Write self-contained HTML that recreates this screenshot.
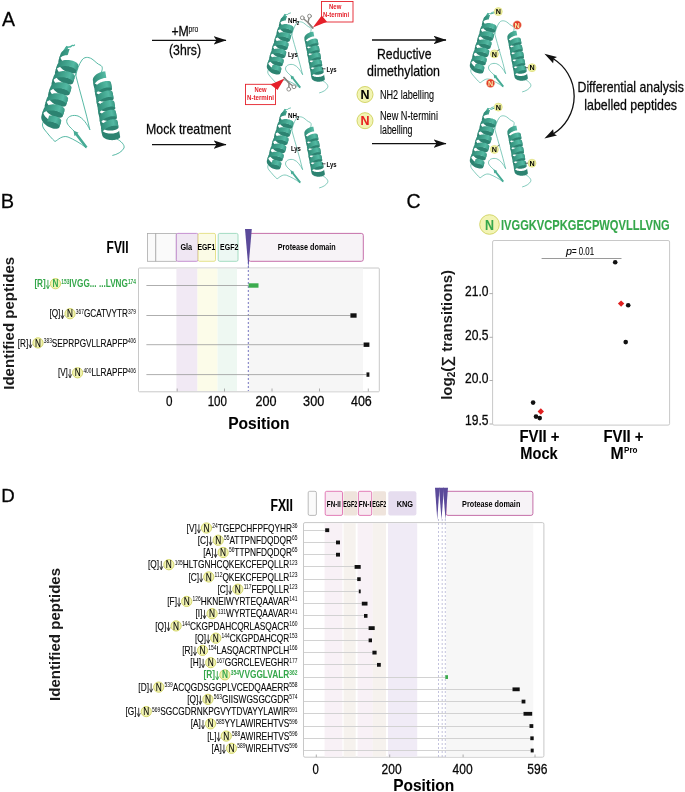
<!DOCTYPE html><html><head><meta charset="utf-8"><style>html,body{margin:0;padding:0;background:#fff;width:685px;height:792px;overflow:hidden}svg{display:block;font-family:"Liberation Sans",sans-serif;will-change:transform}</style></head><body><svg width="685" height="792" viewBox="0 0 685 792" font-family="Liberation Sans, sans-serif">
<rect width="685" height="792" fill="#ffffff"/>
<defs><marker id="ah" viewBox="0 0 13 8.6" refX="12.5" refY="4.3" markerWidth="13" markerHeight="8.6" markerUnits="userSpaceOnUse" orient="auto"><path d="M0,0 L13,4.3 L0,8.6 L3,4.3 Z" fill="#111"/></marker></defs>
<text x="2.00" y="26.00" font-size="19.5" stroke="#1a1a1a" stroke-width="0.3">A</text>
<defs><g id="prot"><path d="M66,48 C68,46 70,48 71.5,46 C72.5,44.5 73.5,46.5 74.5,45" fill="none" stroke="#4fb5a0" stroke-width="1.3" stroke-linecap="round" stroke-linejoin="round"/><path d="M61.5,53 L66.5,45.8 L68.5,47.2 L64.5,55 Z" fill="#46ab95"/><path d="M74,66 C75,70 75.5,73 75.8,75.4 C77,70 79,64 82,60 C84,57 88,56.5 92,59 C95,61 97,64 101,65.5 C103,67 102.5,70 101,73" fill="none" stroke="#4fb5a0" stroke-width="0.95" stroke-linecap="round" stroke-linejoin="round"/><path d="M75.8,75.4 C80,92 86,112 89.8,129.5" fill="none" stroke="#4fb5a0" stroke-width="0.95" stroke-linecap="round" stroke-linejoin="round"/><path d="M89.8,129.5 C87,124 83,118 78,116 C73,114.5 68,116 66.8,120 C66,124 70,127 74,131" fill="none" stroke="#4fb5a0" stroke-width="0.95" stroke-linecap="round" stroke-linejoin="round"/><path d="M86,147.5 C80,143 74,139.5 68,137 C62,135 58,140 55,141.5 C52,139 48,134 44,129 C42,126 42,124 43.5,121.5" fill="none" stroke="#4fb5a0" stroke-width="0.95" stroke-linecap="round" stroke-linejoin="round"/><path d="M117,139 C121,141 125,145 124,148 C122,152 117,154.5 112.7,155.4" fill="none" stroke="#4fb5a0" stroke-width="0.95" stroke-linecap="round" stroke-linejoin="round"/><path d="M87.5,146.7 L77.5,133.6 L78.6,132.8 L73.5,130.4 L74.4,136.0 L75.5,135.2 L85.5,148.3 Z" fill="#46ab95"/><linearGradient id="hg1" gradientUnits="userSpaceOnUse" x1="50.0" y1="88.2" x2="69.5" y2="94.3"><stop offset="0" stop-color="#2f8a77"/><stop offset="0.45" stop-color="#43a68f"/><stop offset="0.75" stop-color="#53b9a3"/><stop offset="1" stop-color="#3a9a85"/></linearGradient><path d="M60.38,54.44 L60.22,55.41 L60.24,56.42 L60.42,57.45 L60.77,58.49 L61.28,59.52 L61.93,60.54 L62.72,61.52 L63.62,62.45 L64.63,63.33 L65.73,64.14 L66.89,64.88 L68.09,65.52 L69.32,66.07 L70.54,66.52 L71.75,66.87 L72.90,67.11 L74.00,67.25 L75.01,67.28 L75.91,67.22 L76.70,67.05 L77.35,66.80 L77.85,66.47 L78.19,66.07 L78.37,65.60 L76.49,71.72 L76.31,72.18 L75.96,72.59 L75.46,72.92 L74.81,73.17 L74.03,73.33 L73.12,73.40 L72.11,73.37 L71.02,73.23 L69.86,72.99 L68.66,72.64 L67.43,72.19 L66.21,71.64 L65.00,70.99 L63.84,70.26 L62.75,69.45 L61.74,68.57 L60.83,67.63 L60.04,66.65 L59.39,65.64 L58.89,64.61 L58.54,63.57 L58.35,62.54 L58.34,61.53 L58.49,60.56ZM56.96,65.52 L56.81,66.50 L56.82,67.50 L57.01,68.53 L57.36,69.57 L57.86,70.61 L58.51,71.62 L59.30,72.60 L60.21,73.54 L61.22,74.42 L62.31,75.23 L63.47,75.96 L64.67,76.60 L65.90,77.15 L67.13,77.61 L68.33,77.95 L69.49,78.20 L70.58,78.33 L71.59,78.37 L72.49,78.30 L73.28,78.14 L73.93,77.89 L74.43,77.55 L74.78,77.15 L74.96,76.69 L73.07,82.80 L72.89,83.27 L72.55,83.67 L72.04,84.00 L71.39,84.25 L70.61,84.42 L69.70,84.48 L68.70,84.45 L67.60,84.31 L66.44,84.07 L65.24,83.72 L64.01,83.27 L62.79,82.72 L61.59,82.07 L60.43,81.34 L59.33,80.53 L58.32,79.65 L57.41,78.72 L56.63,77.74 L55.97,76.72 L55.47,75.69 L55.12,74.65 L54.94,73.62 L54.92,72.61 L55.08,71.64ZM53.55,76.61 L53.39,77.58 L53.41,78.59 L53.59,79.62 L53.94,80.66 L54.44,81.69 L55.10,82.70 L55.88,83.68 L56.79,84.62 L57.80,85.50 L58.89,86.31 L60.05,87.04 L61.26,87.69 L62.48,88.24 L63.71,88.69 L64.91,89.04 L66.07,89.28 L67.16,89.42 L68.17,89.45 L69.08,89.38 L69.86,89.22 L70.51,88.97 L71.01,88.64 L71.36,88.23 L71.54,87.77 L69.66,93.89 L69.47,94.35 L69.13,94.75 L68.63,95.08 L67.98,95.34 L67.19,95.50 L66.29,95.57 L65.28,95.53 L64.19,95.40 L63.03,95.15 L61.82,94.81 L60.60,94.35 L59.37,93.80 L58.17,93.16 L57.01,92.43 L55.91,91.62 L54.90,90.74 L54.00,89.80 L53.21,88.82 L52.56,87.81 L52.05,86.77 L51.71,85.73 L51.52,84.70 L51.51,83.69 L51.66,82.72ZM50.13,87.69 L49.97,88.66 L49.99,89.67 L50.17,90.70 L50.52,91.74 L51.03,92.77 L51.68,93.79 L52.47,94.77 L53.37,95.70 L54.38,96.58 L55.48,97.39 L56.64,98.13 L57.84,98.77 L59.07,99.32 L60.29,99.77 L61.50,100.12 L62.65,100.36 L63.75,100.50 L64.76,100.53 L65.66,100.47 L66.45,100.30 L67.10,100.05 L67.60,99.72 L67.94,99.32 L68.12,98.85 L66.24,104.97 L66.06,105.43 L65.71,105.84 L65.21,106.17 L64.56,106.42 L63.78,106.58 L62.87,106.65 L61.86,106.62 L60.77,106.48 L59.61,106.24 L58.41,105.89 L57.18,105.44 L55.96,104.89 L54.75,104.24 L53.59,103.51 L52.50,102.70 L51.49,101.82 L50.58,100.88 L49.79,99.90 L49.14,98.89 L48.64,97.86 L48.29,96.82 L48.10,95.79 L48.09,94.78 L48.24,93.81ZM46.71,98.77 L46.56,99.75 L46.57,100.75 L46.76,101.78 L47.11,102.82 L47.61,103.86 L48.26,104.87 L49.05,105.85 L49.96,106.79 L50.97,107.67 L52.06,108.48 L53.22,109.21 L54.42,109.85 L55.65,110.40 L56.88,110.86 L58.08,111.20 L59.24,111.45 L60.33,111.58 L61.34,111.62 L62.24,111.55 L63.03,111.39 L63.68,111.14 L64.18,110.80 L64.53,110.40 L64.71,109.94 L62.82,116.05 L62.64,116.52 L62.30,116.92 L61.79,117.25 L61.14,117.50 L60.36,117.67 L59.45,117.73 L58.45,117.70 L57.35,117.56 L56.19,117.32 L54.99,116.97 L53.76,116.52 L52.54,115.97 L51.34,115.32 L50.18,114.59 L49.08,113.78 L48.07,112.90 L47.16,111.97 L46.38,110.99 L45.72,109.97 L45.22,108.94 L44.87,107.90 L44.69,106.87 L44.67,105.86 L44.83,104.89ZM43.30,109.86 L43.14,110.83 L43.16,111.84 L43.34,112.87 L43.69,113.91 L44.19,114.94 L44.85,115.95 L45.63,116.93 L46.54,117.87 L47.55,118.75 L48.64,119.56 L49.80,120.29 L51.01,120.94 L52.23,121.49 L53.46,121.94 L54.66,122.29 L55.82,122.53 L56.91,122.67 L57.92,122.70 L58.83,122.63 L59.61,122.47 L60.26,122.22 L60.76,121.89 L61.11,121.48 L61.29,121.02 L59.41,127.14 L59.22,127.60 L58.88,128.00 L58.38,128.33 L57.73,128.59 L56.94,128.75 L56.04,128.82 L55.03,128.78 L53.94,128.65 L52.78,128.40 L51.57,128.06 L50.35,127.60 L49.12,127.05 L47.92,126.41 L46.76,125.68 L45.66,124.87 L44.65,123.99 L43.75,123.05 L42.96,122.07 L42.31,121.06 L41.80,120.02 L41.46,118.98 L41.27,117.95 L41.26,116.94 L41.41,115.97Z" fill="#2c8371"/><path d="M69.63,48.90 L68.29,49.02 L66.99,49.24 L65.75,49.56 L64.60,49.99 L63.55,50.52 L62.63,51.14 L61.83,51.86 L61.19,52.65 L60.70,53.51 L60.38,54.44 L58.49,60.56 L58.82,59.63 L59.30,58.77 L59.95,57.97 L60.74,57.26 L61.67,56.63 L62.72,56.11 L63.87,55.68 L65.10,55.35 L66.40,55.13 L67.75,55.02ZM78.37,65.60 L78.39,65.09 L78.23,64.55 L77.90,63.98 L77.41,63.40 L76.76,62.83 L75.97,62.28 L75.04,61.76 L73.99,61.28 L72.84,60.87 L71.60,60.52 L70.30,60.25 L68.95,60.06 L67.59,59.98 L66.22,59.99 L64.87,60.10 L63.57,60.32 L62.34,60.64 L61.18,61.07 L60.14,61.60 L59.21,62.23 L58.42,62.94 L57.77,63.73 L57.29,64.60 L56.96,65.52 L55.08,71.64 L55.40,70.71 L55.89,69.85 L56.53,69.06 L57.32,68.34 L58.25,67.72 L59.30,67.19 L60.45,66.76 L61.69,66.44 L62.99,66.22 L64.33,66.10 L65.70,66.09 L67.07,66.18 L68.41,66.36 L69.72,66.63 L70.95,66.98 L72.11,67.40 L73.16,67.87 L74.09,68.39 L74.88,68.95 L75.53,69.52 L76.02,70.09 L76.34,70.66 L76.50,71.21 L76.49,71.72ZM74.96,76.69 L74.97,76.18 L74.81,75.63 L74.49,75.06 L74.00,74.49 L73.35,73.91 L72.55,73.36 L71.62,72.84 L70.58,72.37 L69.42,71.95 L68.19,71.60 L66.88,71.33 L65.54,71.15 L64.17,71.06 L62.80,71.07 L61.46,71.18 L60.15,71.40 L58.92,71.73 L57.77,72.16 L56.72,72.69 L55.79,73.31 L55.00,74.02 L54.36,74.82 L53.87,75.68 L53.55,76.61 L51.66,82.72 L51.98,81.80 L52.47,80.93 L53.12,80.14 L53.91,79.43 L54.83,78.80 L55.88,78.27 L57.03,77.84 L58.27,77.52 L59.57,77.30 L60.92,77.19 L62.28,77.18 L63.65,77.26 L65.00,77.45 L66.30,77.72 L67.54,78.07 L68.69,78.48 L69.74,78.96 L70.67,79.48 L71.46,80.03 L72.11,80.60 L72.60,81.18 L72.93,81.75 L73.08,82.29 L73.07,82.80ZM71.54,87.77 L71.55,87.26 L71.40,86.71 L71.07,86.15 L70.58,85.57 L69.93,85.00 L69.14,84.44 L68.21,83.92 L67.16,83.45 L66.01,83.03 L64.77,82.68 L63.47,82.41 L62.12,82.23 L60.75,82.14 L59.38,82.15 L58.04,82.27 L56.74,82.49 L55.50,82.81 L54.35,83.24 L53.30,83.77 L52.38,84.39 L51.58,85.11 L50.94,85.90 L50.45,86.76 L50.13,87.69 L48.24,93.81 L48.57,92.88 L49.05,92.02 L49.70,91.22 L50.49,90.51 L51.42,89.88 L52.47,89.36 L53.62,88.93 L54.85,88.60 L56.15,88.38 L57.50,88.27 L58.87,88.26 L60.24,88.35 L61.58,88.53 L62.88,88.80 L64.12,89.15 L65.27,89.57 L66.32,90.04 L67.25,90.56 L68.05,91.11 L68.69,91.68 L69.18,92.26 L69.51,92.83 L69.67,93.38 L69.66,93.89ZM68.12,98.85 L68.14,98.34 L67.98,97.80 L67.65,97.23 L67.16,96.65 L66.51,96.08 L65.72,95.53 L64.79,95.01 L63.74,94.53 L62.59,94.12 L61.35,93.77 L60.05,93.50 L58.70,93.31 L57.34,93.23 L55.97,93.24 L54.62,93.35 L53.32,93.57 L52.09,93.89 L50.93,94.32 L49.89,94.85 L48.96,95.48 L48.17,96.19 L47.52,96.98 L47.04,97.85 L46.71,98.77 L44.83,104.89 L45.15,103.96 L45.64,103.10 L46.28,102.31 L47.07,101.59 L48.00,100.97 L49.05,100.44 L50.20,100.01 L51.44,99.69 L52.74,99.47 L54.08,99.35 L55.45,99.34 L56.82,99.43 L58.16,99.61 L59.47,99.88 L60.70,100.23 L61.86,100.65 L62.91,101.12 L63.84,101.64 L64.63,102.20 L65.28,102.77 L65.77,103.34 L66.09,103.91 L66.25,104.46 L66.24,104.97ZM64.71,109.94 L64.72,109.43 L64.56,108.88 L64.24,108.31 L63.75,107.74 L63.10,107.16 L62.30,106.61 L61.37,106.09 L60.33,105.62 L59.17,105.20 L57.94,104.85 L56.63,104.58 L55.29,104.40 L53.92,104.31 L52.55,104.32 L51.21,104.43 L49.90,104.65 L48.67,104.98 L47.52,105.41 L46.47,105.94 L45.54,106.56 L44.75,107.27 L44.11,108.07 L43.62,108.93 L43.30,109.86 L41.41,115.97 L41.73,115.05 L42.22,114.18 L42.87,113.39 L43.66,112.68 L44.58,112.05 L45.63,111.52 L46.78,111.09 L48.02,110.77 L49.32,110.55 L50.67,110.44 L52.03,110.43 L53.40,110.51 L54.75,110.70 L56.05,110.97 L57.29,111.32 L58.44,111.73 L59.49,112.21 L60.42,112.73 L61.21,113.28 L61.86,113.85 L62.35,114.43 L62.68,115.00 L62.83,115.54 L62.82,116.05ZM61.29,121.02 L61.30,120.51 L61.15,119.96 L60.82,119.40 L60.33,118.82 L59.68,118.25 L58.89,117.69 L57.96,117.17 L56.91,116.70 L55.76,116.28 L54.52,115.93 L53.22,115.66 L51.87,115.48 L50.50,115.39 L49.13,115.40 L47.25,121.52 L48.62,121.51 L49.99,121.60 L51.33,121.78 L52.63,122.05 L53.87,122.40 L55.02,122.82 L56.07,123.29 L57.00,123.81 L57.80,124.36 L58.44,124.93 L58.93,125.51 L59.26,126.08 L59.42,126.63 L59.41,127.14Z" fill="url(#hg1)"/><linearGradient id="hg2" gradientUnits="userSpaceOnUse" x1="97.6" y1="108.5" x2="114.9" y2="105.5"><stop offset="0" stop-color="#2f8a77"/><stop offset="0.45" stop-color="#43a68f"/><stop offset="0.75" stop-color="#53b9a3"/><stop offset="1" stop-color="#3a9a85"/></linearGradient><path d="M92.96,80.87 L93.23,81.61 L93.65,82.30 L94.20,82.96 L94.88,83.55 L95.67,84.08 L96.57,84.55 L97.56,84.94 L98.62,85.26 L99.74,85.50 L100.89,85.66 L102.06,85.75 L103.23,85.76 L104.37,85.69 L105.47,85.56 L106.51,85.36 L107.48,85.11 L108.35,84.82 L109.11,84.48 L109.76,84.11 L110.27,83.73 L110.65,83.33 L110.88,82.94 L110.96,82.55 L110.89,82.19 L112.00,88.69 L112.06,89.06 L111.98,89.44 L111.75,89.84 L111.38,90.24 L110.86,90.62 L110.22,90.99 L109.45,91.32 L108.58,91.62 L107.62,91.87 L106.57,92.07 L105.47,92.20 L104.33,92.26 L103.16,92.25 L102.00,92.17 L100.84,92.01 L99.73,91.77 L98.67,91.45 L97.68,91.06 L96.78,90.59 L95.98,90.06 L95.30,89.46 L94.75,88.81 L94.33,88.11 L94.06,87.38ZM94.61,90.54 L94.90,91.28 L95.34,91.97 L95.91,92.61 L96.60,93.20 L97.42,93.73 L98.33,94.18 L99.33,94.56 L100.40,94.87 L101.52,95.10 L102.67,95.25 L103.84,95.33 L105.01,95.32 L106.15,95.25 L107.24,95.11 L108.27,94.91 L109.23,94.65 L110.09,94.35 L110.83,94.01 L111.46,93.64 L111.96,93.25 L112.31,92.85 L112.52,92.46 L112.58,92.07 L112.50,91.71 L113.60,98.22 L113.69,98.58 L113.63,98.96 L113.42,99.36 L113.06,99.75 L112.57,100.14 L111.94,100.51 L111.19,100.85 L110.33,101.16 L109.38,101.41 L108.35,101.62 L107.25,101.76 L106.11,101.83 L104.95,101.83 L103.78,101.76 L102.62,101.61 L101.50,101.38 L100.43,101.07 L99.43,100.69 L98.52,100.23 L97.71,99.71 L97.01,99.12 L96.44,98.48 L96.01,97.78 L95.71,97.05ZM96.27,100.22 L96.58,100.95 L97.03,101.63 L97.62,102.27 L98.33,102.85 L99.16,103.36 L100.08,103.81 L101.09,104.18 L102.17,104.48 L103.30,104.70 L104.46,104.84 L105.63,104.90 L106.79,104.89 L107.92,104.81 L109.01,104.66 L110.03,104.45 L110.97,104.18 L111.82,103.87 L112.55,103.53 L113.16,103.16 L113.64,102.77 L113.97,102.37 L114.16,101.97 L114.20,101.59 L114.10,101.24 L115.20,107.74 L115.31,108.10 L115.27,108.48 L115.08,108.88 L114.74,109.27 L114.27,109.66 L113.66,110.04 L112.92,110.38 L112.08,110.69 L111.14,110.95 L110.11,111.16 L109.03,111.31 L107.89,111.40 L106.73,111.41 L105.56,111.35 L104.40,111.21 L103.28,110.99 L102.20,110.69 L101.19,110.32 L100.26,109.87 L99.44,109.36 L98.72,108.78 L98.14,108.14 L97.68,107.45 L97.37,106.73ZM97.92,109.89 L98.26,110.62 L98.73,111.30 L99.33,111.92 L100.06,112.50 L100.90,113.00 L101.84,113.44 L102.86,113.80 L103.95,114.09 L105.08,114.30 L106.24,114.42 L107.41,114.48 L108.57,114.46 L109.70,114.36 L110.78,114.20 L111.79,113.99 L112.72,113.72 L113.55,113.40 L114.27,113.05 L114.86,112.68 L115.32,112.28 L115.63,111.89 L115.80,111.49 L115.82,111.12 L115.70,110.76 L116.80,117.27 L116.93,117.62 L116.91,118.00 L116.74,118.39 L116.42,118.79 L115.96,119.18 L115.37,119.56 L114.65,119.91 L113.82,120.22 L112.90,120.49 L111.88,120.71 L110.80,120.87 L109.67,120.96 L108.52,120.98 L107.35,120.93 L106.18,120.80 L105.05,120.59 L103.97,120.31 L102.95,119.95 L102.01,119.51 L101.17,119.00 L100.44,118.43 L99.83,117.80 L99.36,117.12 L99.03,116.40ZM99.38,118.82 L99.58,119.57 L99.94,120.28 L100.43,120.96 L101.05,121.58 L101.80,122.14 L102.65,122.64 L103.60,123.07 L104.63,123.42 L105.72,123.69 L106.86,123.89 L108.03,124.01 L109.19,124.05 L110.35,124.02 L111.47,123.92 L112.55,123.75 L113.55,123.52 L114.46,123.25 L115.28,122.93 L115.98,122.57 L116.55,122.20 L116.99,121.80 L117.29,121.41 L117.44,121.01 L117.44,120.64 L118.54,127.15 L118.54,127.52 L118.39,127.91 L118.10,128.31 L117.66,128.70 L117.08,129.08 L116.38,129.44 L115.57,129.76 L114.65,130.03 L113.65,130.26 L112.58,130.42 L111.45,130.53 L110.30,130.56 L109.13,130.52 L107.97,130.40 L106.83,130.20 L105.74,129.92 L104.70,129.57 L103.75,129.15 L102.90,128.65 L102.15,128.09 L101.53,127.46 L101.04,126.79 L100.69,126.07 L100.48,125.32ZM101.02,128.49 L101.25,129.24 L101.62,129.95 L102.13,130.62 L102.77,131.23 L103.53,131.79 L104.40,132.27 L105.36,132.69 L106.40,133.03 L107.50,133.30 L108.64,133.48 L109.81,133.59 L110.98,133.62 L112.13,133.58 L113.25,133.47 L114.31,133.30 L115.30,133.06 L116.21,132.78 L117.01,132.45 L117.69,132.10 L118.25,131.72 L118.66,131.32 L118.94,130.92 L119.07,130.53 L119.05,130.16 L120.15,136.67 L120.17,137.04 L120.05,137.43 L119.77,137.83 L119.35,138.22 L118.79,138.60 L118.11,138.96 L117.31,139.29 L116.41,139.57 L115.41,139.80 L114.35,139.98 L113.23,140.09 L112.08,140.13 L110.91,140.10 L109.75,139.99 L108.61,139.80 L107.51,139.54 L106.47,139.20 L105.50,138.78 L104.63,138.29 L103.87,137.74 L103.23,137.13 L102.72,136.46 L102.35,135.75 L102.13,135.00Z" fill="#2c8371"/><path d="M105.22,71.36 L104.23,71.44 L103.18,71.59 L102.10,71.82 L101.00,72.14 L99.90,72.52 L98.82,72.98 L97.79,73.51 L96.81,74.10 L95.90,74.75 L95.09,75.44 L94.39,76.17 L93.80,76.94 L93.35,77.72 L93.03,78.52 L92.86,79.32 L92.83,80.10 L92.96,80.87 L94.06,87.38 L93.94,86.61 L93.96,85.82 L94.13,85.03 L94.45,84.23 L94.91,83.45 L95.49,82.68 L96.20,81.95 L97.01,81.25 L97.91,80.61 L98.89,80.02 L99.93,79.49 L101.00,79.03 L102.10,78.64 L103.20,78.33 L104.29,78.10 L105.33,77.94 L106.32,77.87ZM110.89,82.19 L110.68,81.85 L110.32,81.56 L109.83,81.31 L109.21,81.12 L108.47,80.99 L107.63,80.93 L106.71,80.94 L105.71,81.03 L104.66,81.19 L103.57,81.44 L102.47,81.76 L101.38,82.15 L100.30,82.62 L99.27,83.16 L98.30,83.76 L97.41,84.41 L96.61,85.11 L95.92,85.85 L95.36,86.62 L94.92,87.40 L94.62,88.20 L94.47,89.00 L94.47,89.78 L94.61,90.54 L95.71,97.05 L95.57,96.29 L95.57,95.50 L95.73,94.71 L96.02,93.91 L96.46,93.12 L97.03,92.36 L97.72,91.62 L98.51,90.92 L99.41,90.26 L100.38,89.67 L101.41,89.13 L102.48,88.66 L103.58,88.26 L104.68,87.94 L105.76,87.70 L106.81,87.53 L107.81,87.45 L108.74,87.43 L109.58,87.50 L110.31,87.62 L110.93,87.82 L111.43,88.06 L111.78,88.36 L112.00,88.69ZM112.50,91.71 L112.26,91.38 L111.89,91.09 L111.38,90.85 L110.74,90.67 L109.99,90.55 L109.14,90.50 L108.20,90.52 L107.19,90.62 L106.14,90.79 L105.05,91.05 L103.95,91.38 L102.85,91.79 L101.78,92.26 L100.76,92.81 L99.80,93.42 L98.92,94.08 L98.14,94.78 L97.46,95.53 L96.91,96.30 L96.49,97.09 L96.22,97.88 L96.08,98.68 L96.10,99.46 L96.27,100.22 L97.37,106.73 L97.21,105.97 L97.19,105.19 L97.32,104.39 L97.60,103.59 L98.02,102.80 L98.57,102.03 L99.24,101.29 L100.02,100.58 L100.90,99.92 L101.86,99.32 L102.89,98.77 L103.96,98.29 L105.05,97.89 L106.15,97.55 L107.24,97.30 L108.30,97.12 L109.30,97.03 L110.24,97.00 L111.09,97.06 L111.84,97.18 L112.48,97.36 L112.99,97.60 L113.37,97.89 L113.60,98.22ZM114.10,101.24 L113.84,100.91 L113.45,100.63 L112.92,100.40 L112.27,100.22 L111.50,100.11 L110.64,100.07 L109.69,100.10 L108.68,100.21 L107.61,100.40 L106.52,100.66 L105.42,101.00 L104.33,101.42 L103.26,101.91 L102.25,102.46 L101.30,103.08 L100.43,103.74 L99.66,104.45 L99.00,105.20 L98.47,105.98 L98.07,106.77 L97.81,107.56 L97.70,108.36 L97.74,109.14 L97.92,109.89 L99.03,116.40 L98.84,115.65 L98.81,114.87 L98.92,114.07 L99.18,113.27 L99.58,112.48 L100.11,111.71 L100.77,110.96 L101.53,110.25 L102.40,109.58 L103.35,108.97 L104.37,108.42 L105.43,107.93 L106.52,107.51 L107.63,107.17 L108.72,106.90 L109.78,106.72 L110.79,106.61 L111.74,106.58 L112.61,106.62 L113.37,106.73 L114.02,106.90 L114.55,107.14 L114.95,107.42 L115.20,107.74ZM115.70,110.76 L115.42,110.44 L115.01,110.17 L114.46,109.94 L113.79,109.77 L113.01,109.67 L112.14,109.64 L111.18,109.68 L110.16,109.80 L109.09,110.00 L107.99,110.28 L106.89,110.63 L105.80,111.06 L104.75,111.55 L103.74,112.12 L102.80,112.74 L101.94,113.41 L101.19,114.13 L100.55,114.88 L100.03,115.66 L99.65,116.45 L99.41,117.25 L99.32,118.04 L99.38,118.82 L100.48,125.32 L100.43,124.55 L100.52,123.75 L100.76,122.96 L101.14,122.16 L101.65,121.39 L102.29,120.63 L103.05,119.92 L103.90,119.24 L104.84,118.62 L105.85,118.06 L106.91,117.56 L108.00,117.14 L109.10,116.78 L110.19,116.51 L111.26,116.31 L112.28,116.19 L113.24,116.15 L114.12,116.18 L114.90,116.28 L115.57,116.45 L116.11,116.67 L116.53,116.95 L116.80,117.27ZM117.44,120.64 L117.29,120.29 L117.00,119.97 L116.57,119.70 L116.00,119.49 L115.32,119.33 L114.52,119.24 L113.63,119.21 L112.67,119.27 L111.64,119.40 L110.56,119.61 L109.47,119.89 L108.37,120.26 L107.28,120.69 L106.23,121.20 L105.23,121.77 L104.30,122.40 L103.46,123.08 L102.72,123.80 L102.09,124.56 L101.60,125.34 L101.24,126.13 L101.02,126.93 L100.95,127.72 L101.02,128.49 L102.13,135.00 L102.05,134.23 L102.12,133.44 L102.34,132.64 L102.70,131.84 L103.20,131.06 L103.82,130.31 L104.56,129.59 L105.40,128.91 L106.33,128.28 L107.33,127.71 L108.38,127.20 L109.47,126.76 L110.57,126.40 L111.67,126.11 L112.74,125.90 L113.77,125.77 L114.74,125.72 L115.63,125.74 L116.42,125.84 L117.11,125.99 L117.67,126.21 L118.10,126.48 L118.39,126.80 L118.54,127.15ZM119.05,130.16 L120.15,136.67Z" fill="url(#hg2)"/></g></defs>
<use href="#prot"/>
<use href="#prot" transform="matrix(0.734,-0.0196,0.0086,0.73,235.5,-18.4)"/>
<use href="#prot" transform="matrix(0.734,-0.0196,0.0086,0.73,235.5,76.6)"/>
<use href="#prot" transform="matrix(0.734,-0.0196,0.0086,0.73,438.5,-19.4)"/>
<use href="#prot" transform="matrix(0.734,-0.0196,0.0086,0.73,438.5,75.6)"/>
<g fill="none" stroke="#858580" stroke-linecap="round"><path d="M302.3,17.8 L308.0,22.5 L312.8,28.0" stroke-width="1.4"/><path d="M309.5,16.1 L308.0,22.5 L312.8,28.0" stroke-width="1.4"/><circle cx="302.3" cy="17.8" r="1.9" fill="#fff" stroke-width="0.9"/><circle cx="309.5" cy="16.1" r="1.9" fill="#fff" stroke-width="0.9"/></g>
<g fill="none" stroke="#858580" stroke-linecap="round"><path d="M288.8,89.2 L289.0,83.0 L284.0,77.5" stroke-width="1.4"/><path d="M294.0,86.8 L289.0,83.0 L284.0,77.5" stroke-width="1.4"/><circle cx="288.8" cy="89.2" r="1.9" fill="#fff" stroke-width="0.9"/><circle cx="294.0" cy="86.8" r="1.9" fill="#fff" stroke-width="0.9"/></g>
<rect x="321.5" y="1.5" width="31.5" height="20.5" fill="#fff" stroke="#e5202a" stroke-width="0.9"/>
<text x="335.20" y="9.00" font-size="7" font-weight="bold" fill="#e5202a" text-anchor="middle" textLength="12.30" lengthAdjust="spacingAndGlyphs">New</text>
<text x="336.10" y="17.20" font-size="7" font-weight="bold" fill="#e5202a" text-anchor="middle" textLength="26.00" lengthAdjust="spacingAndGlyphs">N-termini</text>
<path d="M312.8,27.6 L321.7,15.5 L327,21.8 Z" fill="#e5202a"/>
<rect x="245.5" y="84.3" width="30" height="20.3" fill="#fff" stroke="#e5202a" stroke-width="0.9"/>
<text x="260.50" y="91.90" font-size="7" font-weight="bold" fill="#e5202a" text-anchor="middle" textLength="12.00" lengthAdjust="spacingAndGlyphs">New</text>
<text x="260.50" y="100.30" font-size="7" font-weight="bold" fill="#e5202a" text-anchor="middle" textLength="27.00" lengthAdjust="spacingAndGlyphs">N-termini</text>
<path d="M284.5,78.6 L270.5,84.6 L277.5,90 Z" fill="#e5202a"/>
<text x="287.90" y="23.40" font-size="8" font-weight="bold" textLength="9.00" lengthAdjust="spacingAndGlyphs">NH</text>
<text x="296.80" y="25.40" font-size="5" font-weight="bold" textLength="2.50" lengthAdjust="spacingAndGlyphs">2</text>
<text x="287.90" y="56.50" font-size="8" font-weight="bold" textLength="10.00" lengthAdjust="spacingAndGlyphs">Lys</text>
<line x1="322" y1="68.8" x2="325.5" y2="68.8" stroke="#222" stroke-width="0.8"/>
<text x="326.60" y="71.50" font-size="8" font-weight="bold" textLength="10.00" lengthAdjust="spacingAndGlyphs">Lys</text>
<text x="287.90" y="118.40" font-size="8" font-weight="bold" textLength="9.00" lengthAdjust="spacingAndGlyphs">NH</text>
<text x="296.80" y="120.40" font-size="5" font-weight="bold" textLength="2.50" lengthAdjust="spacingAndGlyphs">2</text>
<text x="290.90" y="151.00" font-size="8" font-weight="bold" textLength="10.00" lengthAdjust="spacingAndGlyphs">Lys</text>
<line x1="322" y1="163.8" x2="325.5" y2="163.8" stroke="#222" stroke-width="0.8"/>
<text x="326.60" y="166.50" font-size="8" font-weight="bold" textLength="10.00" lengthAdjust="spacingAndGlyphs">Lys</text>
<path d="M490.5,14 L495,12.5" stroke="#46ab95" stroke-width="1"/>
<circle cx="498.3" cy="11.6" r="4.0" fill="#eef0a0" stroke="#d8d870" stroke-width="0.6"/>
<text x="498.30" y="14.20" font-size="7.2" font-weight="bold" text-anchor="middle" textLength="5.20" lengthAdjust="spacingAndGlyphs">N</text>
<line x1="496.5" y1="51.5" x2="499.5" y2="49.5" stroke="#222" stroke-width="0.7"/>
<circle cx="494.4" cy="53.9" r="4.0" fill="#eef0a0" stroke="#d8d870" stroke-width="0.6"/>
<text x="494.40" y="56.50" font-size="7.2" font-weight="bold" text-anchor="middle" textLength="5.20" lengthAdjust="spacingAndGlyphs">N</text>
<line x1="525.5" y1="67.7" x2="528.5" y2="67.7" stroke="#222" stroke-width="0.8"/>
<circle cx="532" cy="67.7" r="4.0" fill="#eef0a0" stroke="#d8d870" stroke-width="0.6"/>
<text x="532.00" y="70.30" font-size="7.2" font-weight="bold" text-anchor="middle" textLength="5.20" lengthAdjust="spacingAndGlyphs">N</text>
<path d="M490.5,109.5 L495,108.0" stroke="#46ab95" stroke-width="1"/>
<circle cx="498.3" cy="107.1" r="4.0" fill="#eef0a0" stroke="#d8d870" stroke-width="0.6"/>
<text x="498.30" y="109.70" font-size="7.2" font-weight="bold" text-anchor="middle" textLength="5.20" lengthAdjust="spacingAndGlyphs">N</text>
<line x1="496.5" y1="147.0" x2="499.5" y2="145.0" stroke="#222" stroke-width="0.7"/>
<circle cx="494.4" cy="149.4" r="4.0" fill="#eef0a0" stroke="#d8d870" stroke-width="0.6"/>
<text x="494.40" y="152.00" font-size="7.2" font-weight="bold" text-anchor="middle" textLength="5.20" lengthAdjust="spacingAndGlyphs">N</text>
<line x1="525.5" y1="163.2" x2="528.5" y2="163.2" stroke="#222" stroke-width="0.8"/>
<circle cx="532" cy="163.2" r="4.0" fill="#eef0a0" stroke="#d8d870" stroke-width="0.6"/>
<text x="532.00" y="165.80" font-size="7.2" font-weight="bold" text-anchor="middle" textLength="5.20" lengthAdjust="spacingAndGlyphs">N</text>
<circle cx="517.2" cy="25" r="4.2" fill="#e23a2a" stroke="#f3c6a0" stroke-width="0.5"/>
<text x="517.20" y="27.60" font-size="7.2" font-weight="bold" fill="#f6f0a8" text-anchor="middle" textLength="5.20" lengthAdjust="spacingAndGlyphs">N</text>
<circle cx="490.5" cy="83.2" r="4.2" fill="#e23a2a" stroke="#f3c6a0" stroke-width="0.5"/>
<text x="490.50" y="85.80" font-size="7.2" font-weight="bold" fill="#f6f0a8" text-anchor="middle" textLength="5.20" lengthAdjust="spacingAndGlyphs">N</text>
<line x1="152" y1="40.3" x2="226" y2="40.3" stroke="#111" stroke-width="1.3" marker-end="url(#ah)"/>
<line x1="152" y1="144.6" x2="226" y2="144.6" stroke="#111" stroke-width="1.3" marker-end="url(#ah)"/>
<line x1="372" y1="40" x2="446" y2="40" stroke="#111" stroke-width="1.3" marker-end="url(#ah)"/>
<line x1="372" y1="143.6" x2="446" y2="143.6" stroke="#111" stroke-width="1.3" marker-end="url(#ah)"/>
<text x="171.40" y="35.80" font-size="14.2" textLength="17.40" lengthAdjust="spacingAndGlyphs" stroke="#1a1a1a" stroke-width="0.3">+M</text>
<text x="188.60" y="31.60" font-size="8.8" textLength="9.80" lengthAdjust="spacingAndGlyphs" stroke="#1a1a1a" stroke-width="0.1">pro</text>
<text x="169.00" y="54.50" font-size="14" textLength="32.00" lengthAdjust="spacingAndGlyphs" stroke="#1a1a1a" stroke-width="0.3">(3hrs)</text>
<text x="146.00" y="134.00" font-size="15" textLength="85.00" lengthAdjust="spacingAndGlyphs" stroke="#1a1a1a" stroke-width="0.3">Mock treatment</text>
<text x="377.00" y="59.20" font-size="15.5" textLength="54.50" lengthAdjust="spacingAndGlyphs" stroke="#1a1a1a" stroke-width="0.3">Reductive</text>
<text x="367.00" y="75.50" font-size="15" textLength="73.00" lengthAdjust="spacingAndGlyphs" stroke="#1a1a1a" stroke-width="0.3">dimethylation</text>
<circle cx="365" cy="94.5" r="8" fill="#f2f4b4" stroke="#d4d66a" stroke-width="1"/>
<text x="365.00" y="99.00" font-size="13" font-weight="bold" text-anchor="middle" textLength="9.00" lengthAdjust="spacingAndGlyphs" stroke="#1a1a1a" stroke-width="0.1">N</text>
<circle cx="365" cy="120.7" r="8" fill="#f2f4b4" stroke="#d4d66a" stroke-width="1"/>
<text x="365.00" y="125.20" font-size="13" font-weight="bold" fill="#e82020" text-anchor="middle" textLength="9.00" lengthAdjust="spacingAndGlyphs" stroke="#e82020" stroke-width="0.1">N</text>
<text x="380.00" y="99.00" font-size="12" textLength="54.00" lengthAdjust="spacingAndGlyphs" stroke="#1a1a1a" stroke-width="0.1">NH2 labelling</text>
<text x="380.00" y="120.00" font-size="12" textLength="58.00" lengthAdjust="spacingAndGlyphs" stroke="#1a1a1a" stroke-width="0.1">New N-termini</text>
<text x="380.00" y="134.30" font-size="12" textLength="32.50" lengthAdjust="spacingAndGlyphs" stroke="#1a1a1a" stroke-width="0.1">labelling</text>
<path d="M553.3,58.7 A44.3,44.3 0 0 1 553.3,133.9" fill="none" stroke="#111" stroke-width="1.3"/>
<path d="M544.4,53.8 L557,56.9 L553.8,58.7 L553.1,63.3 Z" fill="#111"/>
<path d="M544.4,138.6 L557,135.6 L553.8,133.8 L553.1,129.2 Z" fill="#111"/>
<text x="577.50" y="92.00" font-size="15" textLength="106.50" lengthAdjust="spacingAndGlyphs" stroke="#1a1a1a" stroke-width="0.3">Differential analysis</text>
<text x="584.30" y="109.50" font-size="15" textLength="92.70" lengthAdjust="spacingAndGlyphs" stroke="#1a1a1a" stroke-width="0.3">labelled peptides</text>
<text x="0.80" y="208.40" font-size="20" stroke="#1a1a1a" stroke-width="0.3">B</text>
<text x="106.60" y="252.70" font-size="15.8" font-weight="bold" textLength="21.90" lengthAdjust="spacingAndGlyphs" stroke="#1a1a1a" stroke-width="0.1">FVII</text>
<rect x="147.4" y="233.4" width="8.4" height="27.9" fill="#fafafa" stroke="#aaa" stroke-width="0.8"/>
<rect x="155.8" y="233.4" width="20.5" height="27.9" fill="#fafafa" stroke="#aaa" stroke-width="0.8"/>
<rect x="176.3" y="233.4" width="21.8" height="27.9" rx="1.5" fill="#f0e7f3" stroke="#c084cc" stroke-width="0.9"/>
<rect x="198.1" y="233.4" width="17.4" height="27.9" rx="1.5" fill="#fbfbe6" stroke="#e2df80" stroke-width="0.9"/>
<rect x="218.2" y="233.4" width="19.8" height="27.9" rx="1.5" fill="#edf8f3" stroke="#9ad8bb" stroke-width="0.9"/>
<rect x="248.5" y="233.4" width="114.8" height="27.9" rx="2" fill="#f7f3f7" stroke="#c060a0" stroke-width="0.9"/>
<text x="186.30" y="249.90" font-size="8.7" font-weight="bold" text-anchor="middle" textLength="11.80" lengthAdjust="spacingAndGlyphs">Gla</text>
<text x="206.40" y="249.90" font-size="8.7" font-weight="bold" text-anchor="middle" textLength="17.80" lengthAdjust="spacingAndGlyphs">EGF1</text>
<text x="229.20" y="249.90" font-size="8.7" font-weight="bold" text-anchor="middle" textLength="18.30" lengthAdjust="spacingAndGlyphs">EGF2</text>
<text x="306.70" y="249.90" font-size="8.7" font-weight="bold" text-anchor="middle" textLength="58.10" lengthAdjust="spacingAndGlyphs">Protease domain</text>
<rect x="138.5" y="268" width="240.8" height="123.8" rx="1" fill="#fff" stroke="#c8c8c8" stroke-width="1"/>
<rect x="176.4" y="268.5" width="21.1" height="122.5" fill="#f1e9f4"/>
<rect x="197.5" y="268.5" width="20.1" height="122.5" fill="#fcfce9"/>
<rect x="217.6" y="268.5" width="19.4" height="122.5" fill="#eef8f2"/>
<rect x="248.6" y="268.5" width="114.4" height="122.8" fill="#f6f6f6"/>
<path d="M245,229 L251.8,229 L248.4,268 Z" fill="#5b4a9a"/>
<line x1="248.3" y1="262" x2="248.3" y2="391" stroke="#5050b0" stroke-width="0.8" stroke-dasharray="2,2"/>
<line x1="146.4" y1="285.5" x2="248.6" y2="285.5" stroke="#999" stroke-width="0.8"/>
<rect x="248.6" y="283.3" width="9.900000000000006" height="4.4" fill="#3bab4e"/>
<text x="127.92" y="283.70" font-size="6.5" font-weight="bold" fill="#35a74b" textLength="8.08" lengthAdjust="spacingAndGlyphs">174</text>
<text x="69.34" y="287.30" font-size="11" font-weight="bold" fill="#35a74b" textLength="58.58" lengthAdjust="spacingAndGlyphs">IVGG... ...LVNG</text>
<text x="61.26" y="283.70" font-size="6.5" font-weight="bold" fill="#35a74b" textLength="8.08" lengthAdjust="spacingAndGlyphs">153</text>
<circle cx="55.46" cy="283.70" r="5.10" fill="#f2f4b4" stroke="#d4d66a" stroke-width="1"/>
<text x="52.50" y="287.30" font-size="11" font-weight="bold" fill="#35a74b" textLength="5.92" lengthAdjust="spacingAndGlyphs">N</text>
<path d="M47.91,279.90 V288.30" stroke="#35a74b" stroke-width="0.9"/>
<path d="M46.31,285.30 L47.91,288.80 L49.51,285.30" fill="none" stroke="#35a74b" stroke-width="0.9" stroke-linejoin="miter"/>
<text x="34.38" y="287.30" font-size="11" font-weight="bold" fill="#35a74b" textLength="11.38" lengthAdjust="spacingAndGlyphs">[R]</text>
<line x1="146.4" y1="315.5" x2="350.4" y2="315.5" stroke="#999" stroke-width="0.8"/>
<rect x="350.4" y="313.3" width="6.2000000000000455" height="4.4" fill="#111"/>
<text x="127.92" y="313.70" font-size="6.5" textLength="8.08" lengthAdjust="spacingAndGlyphs">379</text>
<text x="83.91" y="317.30" font-size="11" textLength="44.01" lengthAdjust="spacingAndGlyphs" stroke="#1a1a1a" stroke-width="0.1">GCATVYTR</text>
<text x="75.83" y="313.70" font-size="6.5" textLength="8.08" lengthAdjust="spacingAndGlyphs">367</text>
<circle cx="70.03" cy="313.70" r="5.10" fill="#f2f4b4" stroke="#d4d66a" stroke-width="1"/>
<text x="67.07" y="317.30" font-size="11" textLength="5.92" lengthAdjust="spacingAndGlyphs" stroke="#1a1a1a" stroke-width="0.1">N</text>
<path d="M62.48,309.90 V318.30" stroke="#1a1a1a" stroke-width="0.8"/>
<path d="M60.88,315.30 L62.48,318.80 L64.08,315.30" fill="none" stroke="#1a1a1a" stroke-width="0.8" stroke-linejoin="miter"/>
<text x="49.40" y="317.30" font-size="11" textLength="10.93" lengthAdjust="spacingAndGlyphs" stroke="#1a1a1a" stroke-width="0.1">[Q]</text>
<line x1="146.4" y1="344.7" x2="363.6" y2="344.7" stroke="#999" stroke-width="0.8"/>
<rect x="363.6" y="342.5" width="5.7999999999999545" height="4.4" fill="#111"/>
<text x="127.92" y="342.90" font-size="6.5" textLength="8.08" lengthAdjust="spacingAndGlyphs">406</text>
<text x="51.86" y="346.50" font-size="11" textLength="76.06" lengthAdjust="spacingAndGlyphs" stroke="#1a1a1a" stroke-width="0.1">SEPRPGVLLRAPFP</text>
<text x="43.78" y="342.90" font-size="6.5" textLength="8.08" lengthAdjust="spacingAndGlyphs">383</text>
<circle cx="37.98" cy="342.90" r="5.10" fill="#f2f4b4" stroke="#d4d66a" stroke-width="1"/>
<text x="35.02" y="346.50" font-size="11" textLength="5.92" lengthAdjust="spacingAndGlyphs" stroke="#1a1a1a" stroke-width="0.1">N</text>
<path d="M30.43,339.10 V347.50" stroke="#1a1a1a" stroke-width="0.8"/>
<path d="M28.83,344.50 L30.43,348.00 L32.03,344.50" fill="none" stroke="#1a1a1a" stroke-width="0.8" stroke-linejoin="miter"/>
<text x="17.81" y="346.50" font-size="11" textLength="10.47" lengthAdjust="spacingAndGlyphs" stroke="#1a1a1a" stroke-width="0.1">[R]</text>
<line x1="146.4" y1="374.6" x2="366.5" y2="374.6" stroke="#999" stroke-width="0.8"/>
<rect x="366.5" y="372.40000000000003" width="2.8999999999999773" height="4.4" fill="#111"/>
<text x="127.92" y="372.80" font-size="6.5" textLength="8.08" lengthAdjust="spacingAndGlyphs">406</text>
<text x="91.48" y="376.40" font-size="11" textLength="36.44" lengthAdjust="spacingAndGlyphs" stroke="#1a1a1a" stroke-width="0.1">LLRAPFP</text>
<text x="83.40" y="372.80" font-size="6.5" textLength="8.08" lengthAdjust="spacingAndGlyphs">400</text>
<circle cx="77.60" cy="372.80" r="5.10" fill="#f2f4b4" stroke="#d4d66a" stroke-width="1"/>
<text x="74.64" y="376.40" font-size="11" textLength="5.92" lengthAdjust="spacingAndGlyphs" stroke="#1a1a1a" stroke-width="0.1">N</text>
<path d="M70.05,369.00 V377.40" stroke="#1a1a1a" stroke-width="0.8"/>
<path d="M68.45,374.40 L70.05,377.90 L71.65,374.40" fill="none" stroke="#1a1a1a" stroke-width="0.8" stroke-linejoin="miter"/>
<text x="57.88" y="376.40" font-size="11" textLength="10.02" lengthAdjust="spacingAndGlyphs" stroke="#1a1a1a" stroke-width="0.1">[V]</text>
<line x1="177.2" y1="391.5" x2="177.2" y2="388.5" stroke="#999" stroke-width="0.8"/>
<line x1="224.5" y1="391.5" x2="224.5" y2="388.5" stroke="#999" stroke-width="0.8"/>
<line x1="272" y1="391.5" x2="272" y2="388.5" stroke="#999" stroke-width="0.8"/>
<line x1="319.5" y1="391.5" x2="319.5" y2="388.5" stroke="#999" stroke-width="0.8"/>
<line x1="368.3" y1="391.5" x2="368.3" y2="388.5" stroke="#999" stroke-width="0.8"/>
<text x="166.10" y="406.40" font-size="14" textLength="6.50" lengthAdjust="spacingAndGlyphs" stroke="#1a1a1a" stroke-width="0.3">0</text>
<text x="207.70" y="406.40" font-size="14" textLength="19.30" lengthAdjust="spacingAndGlyphs" stroke="#1a1a1a" stroke-width="0.3">100</text>
<text x="255.50" y="406.40" font-size="14" textLength="21.00" lengthAdjust="spacingAndGlyphs" stroke="#1a1a1a" stroke-width="0.3">200</text>
<text x="303.10" y="406.40" font-size="14" textLength="21.20" lengthAdjust="spacingAndGlyphs" stroke="#1a1a1a" stroke-width="0.3">300</text>
<text x="351.00" y="406.40" font-size="14" textLength="20.80" lengthAdjust="spacingAndGlyphs" stroke="#1a1a1a" stroke-width="0.3">406</text>
<text x="228.20" y="428.50" font-size="16.8" font-weight="bold" textLength="61.40" lengthAdjust="spacingAndGlyphs" stroke="#1a1a1a" stroke-width="0.1">Position</text>
<text transform="translate(13.6,389.8) rotate(-90)" font-size="15" font-weight="bold" textLength="133" lengthAdjust="spacingAndGlyphs" fill="#1a1a1a">Identified peptides</text>
<text x="406.40" y="208.00" font-size="19.5" stroke="#1a1a1a" stroke-width="0.3">C</text>
<circle cx="489.5" cy="224.5" r="9.8" fill="#f2f4b4" stroke="#d4d66a" stroke-width="1"/>
<text x="489.50" y="229.50" font-size="14" font-weight="bold" fill="#35a74b" text-anchor="middle" textLength="9.00" lengthAdjust="spacingAndGlyphs" stroke="#35a74b" stroke-width="0.1">N</text>
<text x="501.00" y="229.50" font-size="14" font-weight="bold" fill="#35a74b" textLength="168.60" lengthAdjust="spacingAndGlyphs" stroke="#35a74b" stroke-width="0.1">IVGGKVCPKGECPWQVLLLVNG</text>
<rect x="492.6" y="240.5" width="177" height="184.6" rx="1.5" fill="#fff" stroke="#c8c8c8" stroke-width="1"/>
<line x1="541.6" y1="258.5" x2="621.5" y2="258.5" stroke="#9a9a9a" stroke-width="1"/>
<text x="566.00" y="255.20" font-size="11" font-style="italic" textLength="6.00" lengthAdjust="spacingAndGlyphs" stroke="#1a1a1a" stroke-width="0.1">p</text>
<text x="572.00" y="255.20" font-size="11" textLength="22.00" lengthAdjust="spacingAndGlyphs" stroke="#1a1a1a" stroke-width="0.1">= 0.01</text>
<line x1="489.5" y1="293.6" x2="492.6" y2="293.6" stroke="#999" stroke-width="0.8"/>
<text x="465.00" y="295.80" font-size="14.5" textLength="23.50" lengthAdjust="spacingAndGlyphs" stroke="#1a1a1a" stroke-width="0.3">21.0</text>
<line x1="489.5" y1="337.3" x2="492.6" y2="337.3" stroke="#999" stroke-width="0.8"/>
<text x="465.00" y="339.50" font-size="14.5" textLength="23.50" lengthAdjust="spacingAndGlyphs" stroke="#1a1a1a" stroke-width="0.3">20.5</text>
<line x1="489.5" y1="380.5" x2="492.6" y2="380.5" stroke="#999" stroke-width="0.8"/>
<text x="465.00" y="382.70" font-size="14.5" textLength="23.50" lengthAdjust="spacingAndGlyphs" stroke="#1a1a1a" stroke-width="0.3">20.0</text>
<line x1="489.5" y1="424" x2="492.6" y2="424" stroke="#999" stroke-width="0.8"/>
<text x="465.00" y="425.00" font-size="14.5" textLength="23.50" lengthAdjust="spacingAndGlyphs" stroke="#1a1a1a" stroke-width="0.3">19.5</text>
<text transform="translate(451.5,399.8) rotate(-90)" font-size="15" font-weight="bold" fill="#1a1a1a" textLength="129.8" lengthAdjust="spacingAndGlyphs">log<tspan font-size="10" dy="3">2</tspan><tspan dy="-3">(∑ transitions)</tspan></text>
<circle cx="615.2" cy="262.2" r="2.3" fill="#111"/>
<circle cx="628.2" cy="305.3" r="2.3" fill="#111"/>
<circle cx="625.7" cy="342.1" r="2.3" fill="#111"/>
<circle cx="533.1" cy="402.6" r="2.3" fill="#111"/>
<circle cx="536" cy="416.6" r="2.3" fill="#111"/>
<circle cx="539.7" cy="418.1" r="2.3" fill="#111"/>
<path d="M617.9,303.6 L621.1,300.40000000000003 L624.3000000000001,303.6 L621.1,306.8 Z" fill="#e02020"/>
<path d="M537.5999999999999,411.5 L540.8,408.3 L544.0,411.5 L540.8,414.7 Z" fill="#e02020"/>
<text x="519.40" y="442.00" font-size="16.2" font-weight="bold" textLength="40.20" lengthAdjust="spacingAndGlyphs" stroke="#1a1a1a" stroke-width="0.1">FVII +</text>
<text x="520.30" y="459.30" font-size="16.2" font-weight="bold" textLength="37.40" lengthAdjust="spacingAndGlyphs" stroke="#1a1a1a" stroke-width="0.1">Mock</text>
<text x="603.40" y="442.00" font-size="16.2" font-weight="bold" textLength="40.10" lengthAdjust="spacingAndGlyphs" stroke="#1a1a1a" stroke-width="0.1">FVII +</text>
<text x="610.50" y="459.30" font-size="16.2" font-weight="bold" textLength="13.20" lengthAdjust="spacingAndGlyphs" stroke="#1a1a1a" stroke-width="0.1">M</text>
<text x="624.00" y="452.80" font-size="9.5" font-weight="bold" textLength="13.50" lengthAdjust="spacingAndGlyphs">Pro</text>
<text x="1.20" y="502.30" font-size="18.7" stroke="#1a1a1a" stroke-width="0.3">D</text>
<text x="270.50" y="510.70" font-size="16" font-weight="bold" textLength="22.30" lengthAdjust="spacingAndGlyphs" stroke="#1a1a1a" stroke-width="0.1">FXII</text>
<rect x="308.2" y="491.3" width="8.2" height="24.1" rx="1.5" fill="#fafafa" stroke="#aaa" stroke-width="0.8"/>
<rect x="325.2" y="491.3" width="17.3" height="24.1" rx="1.5" fill="#f8e9f1" stroke="#e070b0" stroke-width="0.9"/>
<rect x="343.4" y="491.3" width="13.8" height="24.1" rx="1.5" fill="#efe4dc"/>
<rect x="358.4" y="491.3" width="13.3" height="24.1" rx="1.5" fill="#f8e9f1" stroke="#e070b0" stroke-width="0.9"/>
<rect x="372.6" y="491.3" width="13.4" height="24.1" rx="1.5" fill="#efe4dc"/>
<rect x="388.3" y="491.3" width="28.1" height="24.1" rx="2" fill="#e6ddef"/>
<rect x="446" y="491.3" width="86.9" height="24.1" rx="2" fill="#f7f3f7" stroke="#c060a0" stroke-width="0.9"/>
<text x="333.85" y="506.50" font-size="8.5" font-weight="bold" text-anchor="middle" textLength="14.00" lengthAdjust="spacingAndGlyphs">FN-II</text>
<text x="350.30" y="506.50" font-size="8.5" font-weight="bold" text-anchor="middle" textLength="14.00" lengthAdjust="spacingAndGlyphs">EGF2</text>
<text x="365.00" y="506.50" font-size="8.5" font-weight="bold" text-anchor="middle" textLength="12.50" lengthAdjust="spacingAndGlyphs">FN-I</text>
<text x="379.30" y="506.50" font-size="8.5" font-weight="bold" text-anchor="middle" textLength="14.00" lengthAdjust="spacingAndGlyphs">EGF2</text>
<text x="404.90" y="506.50" font-size="9" font-weight="bold" text-anchor="middle" textLength="16.40" lengthAdjust="spacingAndGlyphs">KNG</text>
<text x="491.20" y="506.50" font-size="9" font-weight="bold" text-anchor="middle" textLength="58.20" lengthAdjust="spacingAndGlyphs">Protease domain</text>
<rect x="303.5" y="522.6" width="240.4" height="234.6" rx="1.5" fill="#fff" stroke="#c8c8c8" stroke-width="1"/>
<rect x="324.6" y="523.1" width="17.8" height="233.6" fill="#f8f1f6"/>
<rect x="343.6" y="523.1" width="12.1" height="233.6" fill="#f6f2ee"/>
<rect x="357.6" y="523.1" width="15.2" height="233.6" fill="#f8f1f6"/>
<rect x="372.8" y="523.1" width="13.2" height="233.6" fill="#f6f2ee"/>
<rect x="388" y="523.1" width="29.2" height="233.6" fill="#f0ebf6"/>
<rect x="446" y="523.1" width="87.3" height="233.6" fill="#f7f7f7"/>
<path d="M435,487.8 L439.5,487.8 L437.25,519.4 Z" fill="#5b4a9a"/>
<path d="M439,487.8 L444,487.8 L441.5,519.4 Z" fill="#5b4a9a"/>
<path d="M443,487.8 L448,487.8 L445.5,519.4 Z" fill="#5b4a9a"/>
<line x1="438.5" y1="519" x2="438.5" y2="757" stroke="#b4b4d4" stroke-width="0.8" stroke-dasharray="2,2"/>
<line x1="442.2" y1="519" x2="442.2" y2="757" stroke="#b4b4d4" stroke-width="0.8" stroke-dasharray="2,2"/>
<line x1="445.3" y1="519" x2="445.3" y2="757" stroke="#b4b4d4" stroke-width="0.8" stroke-dasharray="2,2"/>
<line x1="304" y1="530.50" x2="325.2" y2="530.50" stroke="#d2d2d2" stroke-width="1"/>
<rect x="325.2" y="528.30" width="4.0" height="3.8" fill="#111"/>
<text x="292.04" y="528.00" font-size="6.5" textLength="5.46" lengthAdjust="spacingAndGlyphs">36</text>
<text x="217.75" y="531.60" font-size="11" textLength="74.29" lengthAdjust="spacingAndGlyphs" stroke="#1a1a1a" stroke-width="0.1">TGEPCHFPFQYHR</text>
<text x="212.29" y="528.00" font-size="6.5" textLength="5.46" lengthAdjust="spacingAndGlyphs">24</text>
<circle cx="206.49" cy="528.00" r="5.10" fill="#f2f4b4" stroke="#d4d66a" stroke-width="1"/>
<text x="203.49" y="531.60" font-size="11" textLength="6.00" lengthAdjust="spacingAndGlyphs" stroke="#1a1a1a" stroke-width="0.1">N</text>
<path d="M198.92,524.20 V532.60" stroke="#1a1a1a" stroke-width="0.8"/>
<path d="M197.32,529.60 L198.92,533.10 L200.52,529.60" fill="none" stroke="#1a1a1a" stroke-width="0.8" stroke-linejoin="miter"/>
<text x="186.59" y="531.60" font-size="11" textLength="10.15" lengthAdjust="spacingAndGlyphs" stroke="#1a1a1a" stroke-width="0.1">[V]</text>
<line x1="304" y1="542.50" x2="336" y2="542.50" stroke="#d2d2d2" stroke-width="1"/>
<rect x="336" y="540.54" width="4.0" height="3.8" fill="#111"/>
<text x="292.04" y="540.24" font-size="6.5" textLength="5.46" lengthAdjust="spacingAndGlyphs">65</text>
<text x="229.45" y="543.84" font-size="11" textLength="62.59" lengthAdjust="spacingAndGlyphs" stroke="#1a1a1a" stroke-width="0.1">ATTPNFDQDQR</text>
<text x="223.99" y="540.24" font-size="6.5" textLength="5.46" lengthAdjust="spacingAndGlyphs">55</text>
<circle cx="218.19" cy="540.24" r="5.10" fill="#f2f4b4" stroke="#d4d66a" stroke-width="1"/>
<text x="215.19" y="543.84" font-size="11" textLength="6.00" lengthAdjust="spacingAndGlyphs" stroke="#1a1a1a" stroke-width="0.1">N</text>
<path d="M210.61,536.44 V544.84" stroke="#1a1a1a" stroke-width="0.8"/>
<path d="M209.01,541.84 L210.61,545.34 L212.21,541.84" fill="none" stroke="#1a1a1a" stroke-width="0.8" stroke-linejoin="miter"/>
<text x="197.82" y="543.84" font-size="11" textLength="10.61" lengthAdjust="spacingAndGlyphs" stroke="#1a1a1a" stroke-width="0.1">[C]</text>
<line x1="304" y1="554.50" x2="336" y2="554.50" stroke="#d2d2d2" stroke-width="1"/>
<rect x="336" y="552.78" width="4.0" height="3.8" fill="#111"/>
<text x="292.04" y="552.48" font-size="6.5" textLength="5.46" lengthAdjust="spacingAndGlyphs">65</text>
<text x="234.37" y="556.08" font-size="11" textLength="57.67" lengthAdjust="spacingAndGlyphs" stroke="#1a1a1a" stroke-width="0.1">TTPNFDQDQR</text>
<text x="228.91" y="552.48" font-size="6.5" textLength="5.46" lengthAdjust="spacingAndGlyphs">56</text>
<circle cx="223.11" cy="552.48" r="5.10" fill="#f2f4b4" stroke="#d4d66a" stroke-width="1"/>
<text x="220.11" y="556.08" font-size="11" textLength="6.00" lengthAdjust="spacingAndGlyphs" stroke="#1a1a1a" stroke-width="0.1">N</text>
<path d="M215.54,548.68 V557.08" stroke="#1a1a1a" stroke-width="0.8"/>
<path d="M213.94,554.08 L215.54,557.58 L217.14,554.08" fill="none" stroke="#1a1a1a" stroke-width="0.8" stroke-linejoin="miter"/>
<text x="203.21" y="556.08" font-size="11" textLength="10.15" lengthAdjust="spacingAndGlyphs" stroke="#1a1a1a" stroke-width="0.1">[A]</text>
<line x1="304" y1="566.50" x2="354.6" y2="566.50" stroke="#d2d2d2" stroke-width="1"/>
<rect x="354.6" y="565.02" width="6.1" height="3.8" fill="#111"/>
<text x="289.31" y="564.72" font-size="6.5" textLength="8.19" lengthAdjust="spacingAndGlyphs">123</text>
<text x="182.86" y="568.32" font-size="11" textLength="106.45" lengthAdjust="spacingAndGlyphs" stroke="#1a1a1a" stroke-width="0.1">HLTGNHCQKEKCFEPQLLR</text>
<text x="174.67" y="564.72" font-size="6.5" textLength="8.19" lengthAdjust="spacingAndGlyphs">105</text>
<circle cx="168.87" cy="564.72" r="5.10" fill="#f2f4b4" stroke="#d4d66a" stroke-width="1"/>
<text x="165.87" y="568.32" font-size="11" textLength="6.00" lengthAdjust="spacingAndGlyphs" stroke="#1a1a1a" stroke-width="0.1">N</text>
<path d="M161.30,560.92 V569.32" stroke="#1a1a1a" stroke-width="0.8"/>
<path d="M159.70,566.32 L161.30,569.82 L162.90,566.32" fill="none" stroke="#1a1a1a" stroke-width="0.8" stroke-linejoin="miter"/>
<text x="148.05" y="568.32" font-size="11" textLength="11.07" lengthAdjust="spacingAndGlyphs" stroke="#1a1a1a" stroke-width="0.1">[Q]</text>
<line x1="304" y1="579.50" x2="357.2" y2="579.50" stroke="#d2d2d2" stroke-width="1"/>
<rect x="357.2" y="577.26" width="3.5" height="3.8" fill="#111"/>
<text x="289.31" y="576.96" font-size="6.5" textLength="8.19" lengthAdjust="spacingAndGlyphs">123</text>
<text x="222.39" y="580.56" font-size="11" textLength="66.92" lengthAdjust="spacingAndGlyphs" stroke="#1a1a1a" stroke-width="0.1">QKEKCFEPQLLR</text>
<text x="214.56" y="576.96" font-size="6.5" textLength="7.82" lengthAdjust="spacingAndGlyphs">112</text>
<circle cx="208.76" cy="576.96" r="5.10" fill="#f2f4b4" stroke="#d4d66a" stroke-width="1"/>
<text x="205.76" y="580.56" font-size="11" textLength="6.00" lengthAdjust="spacingAndGlyphs" stroke="#1a1a1a" stroke-width="0.1">N</text>
<path d="M201.19,573.16 V581.56" stroke="#1a1a1a" stroke-width="0.8"/>
<path d="M199.59,578.56 L201.19,582.06 L202.79,578.56" fill="none" stroke="#1a1a1a" stroke-width="0.8" stroke-linejoin="miter"/>
<text x="188.40" y="580.56" font-size="11" textLength="10.61" lengthAdjust="spacingAndGlyphs" stroke="#1a1a1a" stroke-width="0.1">[C]</text>
<line x1="304" y1="591.50" x2="358.8" y2="591.50" stroke="#d2d2d2" stroke-width="1"/>
<rect x="358.8" y="589.50" width="1.9" height="3.8" fill="#111"/>
<text x="289.31" y="589.20" font-size="6.5" textLength="8.19" lengthAdjust="spacingAndGlyphs">123</text>
<text x="251.46" y="592.80" font-size="11" textLength="37.85" lengthAdjust="spacingAndGlyphs" stroke="#1a1a1a" stroke-width="0.1">FEPQLLR</text>
<text x="243.64" y="589.20" font-size="6.5" textLength="7.82" lengthAdjust="spacingAndGlyphs">117</text>
<circle cx="237.84" cy="589.20" r="5.10" fill="#f2f4b4" stroke="#d4d66a" stroke-width="1"/>
<text x="234.84" y="592.80" font-size="11" textLength="6.00" lengthAdjust="spacingAndGlyphs" stroke="#1a1a1a" stroke-width="0.1">N</text>
<path d="M230.26,585.40 V593.80" stroke="#1a1a1a" stroke-width="0.8"/>
<path d="M228.66,590.80 L230.26,594.30 L231.86,590.80" fill="none" stroke="#1a1a1a" stroke-width="0.8" stroke-linejoin="miter"/>
<text x="217.47" y="592.80" font-size="11" textLength="10.61" lengthAdjust="spacingAndGlyphs" stroke="#1a1a1a" stroke-width="0.1">[C]</text>
<line x1="304" y1="603.50" x2="361.8" y2="603.50" stroke="#d2d2d2" stroke-width="1"/>
<rect x="361.8" y="601.74" width="5.7" height="3.8" fill="#111"/>
<text x="289.31" y="601.44" font-size="6.5" textLength="8.19" lengthAdjust="spacingAndGlyphs">141</text>
<text x="200.71" y="605.04" font-size="11" textLength="88.60" lengthAdjust="spacingAndGlyphs" stroke="#1a1a1a" stroke-width="0.1">HKNEIWYRTEQAAVAR</text>
<text x="192.52" y="601.44" font-size="6.5" textLength="8.19" lengthAdjust="spacingAndGlyphs">126</text>
<circle cx="186.72" cy="601.44" r="5.10" fill="#f2f4b4" stroke="#d4d66a" stroke-width="1"/>
<text x="183.72" y="605.04" font-size="11" textLength="6.00" lengthAdjust="spacingAndGlyphs" stroke="#1a1a1a" stroke-width="0.1">N</text>
<path d="M179.14,597.64 V606.04" stroke="#1a1a1a" stroke-width="0.8"/>
<path d="M177.54,603.04 L179.14,606.54 L180.74,603.04" fill="none" stroke="#1a1a1a" stroke-width="0.8" stroke-linejoin="miter"/>
<text x="167.28" y="605.04" font-size="11" textLength="9.69" lengthAdjust="spacingAndGlyphs" stroke="#1a1a1a" stroke-width="0.1">[F]</text>
<line x1="304" y1="615.50" x2="364" y2="615.50" stroke="#d2d2d2" stroke-width="1"/>
<rect x="364" y="613.98" width="3.5" height="3.8" fill="#111"/>
<text x="289.31" y="613.68" font-size="6.5" textLength="8.19" lengthAdjust="spacingAndGlyphs">141</text>
<text x="226.09" y="617.28" font-size="11" textLength="63.22" lengthAdjust="spacingAndGlyphs" stroke="#1a1a1a" stroke-width="0.1">WYRTEQAAVAR</text>
<text x="217.90" y="613.68" font-size="6.5" textLength="8.19" lengthAdjust="spacingAndGlyphs">131</text>
<circle cx="212.10" cy="613.68" r="5.10" fill="#f2f4b4" stroke="#d4d66a" stroke-width="1"/>
<text x="209.10" y="617.28" font-size="11" textLength="6.00" lengthAdjust="spacingAndGlyphs" stroke="#1a1a1a" stroke-width="0.1">N</text>
<path d="M204.52,609.88 V618.28" stroke="#1a1a1a" stroke-width="0.8"/>
<path d="M202.92,615.28 L204.52,618.78 L206.12,615.28" fill="none" stroke="#1a1a1a" stroke-width="0.8" stroke-linejoin="miter"/>
<text x="195.43" y="617.28" font-size="11" textLength="6.92" lengthAdjust="spacingAndGlyphs" stroke="#1a1a1a" stroke-width="0.1">[I]</text>
<line x1="304" y1="628.50" x2="368.6" y2="628.50" stroke="#d2d2d2" stroke-width="1"/>
<rect x="368.6" y="626.22" width="6.1" height="3.8" fill="#111"/>
<text x="289.31" y="625.92" font-size="6.5" textLength="8.19" lengthAdjust="spacingAndGlyphs">160</text>
<text x="190.09" y="629.52" font-size="11" textLength="99.22" lengthAdjust="spacingAndGlyphs" stroke="#1a1a1a" stroke-width="0.1">CKGPDAHCQRLASQACR</text>
<text x="181.90" y="625.92" font-size="6.5" textLength="8.19" lengthAdjust="spacingAndGlyphs">144</text>
<circle cx="176.10" cy="625.92" r="5.10" fill="#f2f4b4" stroke="#d4d66a" stroke-width="1"/>
<text x="173.10" y="629.52" font-size="11" textLength="6.00" lengthAdjust="spacingAndGlyphs" stroke="#1a1a1a" stroke-width="0.1">N</text>
<path d="M168.53,622.12 V630.52" stroke="#1a1a1a" stroke-width="0.8"/>
<path d="M166.93,627.52 L168.53,631.02 L170.13,627.52" fill="none" stroke="#1a1a1a" stroke-width="0.8" stroke-linejoin="miter"/>
<text x="155.28" y="629.52" font-size="11" textLength="11.07" lengthAdjust="spacingAndGlyphs" stroke="#1a1a1a" stroke-width="0.1">[Q]</text>
<line x1="304" y1="640.50" x2="368.6" y2="640.50" stroke="#d2d2d2" stroke-width="1"/>
<rect x="368.6" y="638.46" width="3.4" height="3.8" fill="#111"/>
<text x="289.31" y="638.16" font-size="6.5" textLength="8.19" lengthAdjust="spacingAndGlyphs">153</text>
<text x="229.78" y="641.76" font-size="11" textLength="59.53" lengthAdjust="spacingAndGlyphs" stroke="#1a1a1a" stroke-width="0.1">CKGPDAHCQR</text>
<text x="221.60" y="638.16" font-size="6.5" textLength="8.19" lengthAdjust="spacingAndGlyphs">144</text>
<circle cx="215.80" cy="638.16" r="5.10" fill="#f2f4b4" stroke="#d4d66a" stroke-width="1"/>
<text x="212.80" y="641.76" font-size="11" textLength="6.00" lengthAdjust="spacingAndGlyphs" stroke="#1a1a1a" stroke-width="0.1">N</text>
<path d="M208.22,634.36 V642.76" stroke="#1a1a1a" stroke-width="0.8"/>
<path d="M206.62,639.76 L208.22,643.26 L209.82,639.76" fill="none" stroke="#1a1a1a" stroke-width="0.8" stroke-linejoin="miter"/>
<text x="194.97" y="641.76" font-size="11" textLength="11.07" lengthAdjust="spacingAndGlyphs" stroke="#1a1a1a" stroke-width="0.1">[Q]</text>
<line x1="304" y1="652.50" x2="372.4" y2="652.50" stroke="#d2d2d2" stroke-width="1"/>
<rect x="372.4" y="650.70" width="4.2" height="3.8" fill="#111"/>
<text x="289.31" y="650.40" font-size="6.5" textLength="8.19" lengthAdjust="spacingAndGlyphs">166</text>
<text x="216.54" y="654.00" font-size="11" textLength="72.77" lengthAdjust="spacingAndGlyphs" stroke="#1a1a1a" stroke-width="0.1">LASQACRTNPCLH</text>
<text x="208.35" y="650.40" font-size="6.5" textLength="8.19" lengthAdjust="spacingAndGlyphs">154</text>
<circle cx="202.55" cy="650.40" r="5.10" fill="#f2f4b4" stroke="#d4d66a" stroke-width="1"/>
<text x="199.56" y="654.00" font-size="11" textLength="6.00" lengthAdjust="spacingAndGlyphs" stroke="#1a1a1a" stroke-width="0.1">N</text>
<path d="M194.98,646.60 V655.00" stroke="#1a1a1a" stroke-width="0.8"/>
<path d="M193.38,652.00 L194.98,655.50 L196.58,652.00" fill="none" stroke="#1a1a1a" stroke-width="0.8" stroke-linejoin="miter"/>
<text x="182.19" y="654.00" font-size="11" textLength="10.61" lengthAdjust="spacingAndGlyphs" stroke="#1a1a1a" stroke-width="0.1">[R]</text>
<line x1="304" y1="664.50" x2="377" y2="664.50" stroke="#d2d2d2" stroke-width="1"/>
<rect x="377" y="662.94" width="3.8" height="3.8" fill="#111"/>
<text x="289.31" y="662.64" font-size="6.5" textLength="8.19" lengthAdjust="spacingAndGlyphs">177</text>
<text x="224.70" y="666.24" font-size="11" textLength="64.61" lengthAdjust="spacingAndGlyphs" stroke="#1a1a1a" stroke-width="0.1">GGRCLEVEGHR</text>
<text x="216.52" y="662.64" font-size="6.5" textLength="8.19" lengthAdjust="spacingAndGlyphs">167</text>
<circle cx="210.72" cy="662.64" r="5.10" fill="#f2f4b4" stroke="#d4d66a" stroke-width="1"/>
<text x="207.72" y="666.24" font-size="11" textLength="6.00" lengthAdjust="spacingAndGlyphs" stroke="#1a1a1a" stroke-width="0.1">N</text>
<path d="M203.14,658.84 V667.24" stroke="#1a1a1a" stroke-width="0.8"/>
<path d="M201.54,664.24 L203.14,667.74 L204.74,664.24" fill="none" stroke="#1a1a1a" stroke-width="0.8" stroke-linejoin="miter"/>
<text x="190.35" y="666.24" font-size="11" textLength="10.61" lengthAdjust="spacingAndGlyphs" stroke="#1a1a1a" stroke-width="0.1">[H]</text>
<line x1="304" y1="677.50" x2="445.3" y2="677.50" stroke="#d2d2d2" stroke-width="1"/>
<rect x="445.3" y="675.18" width="2.7" height="3.8" fill="#3bab4e"/>
<text x="289.31" y="674.88" font-size="6.5" font-weight="bold" fill="#35a74b" textLength="8.19" lengthAdjust="spacingAndGlyphs">362</text>
<text x="238.86" y="678.48" font-size="11" font-weight="bold" fill="#35a74b" textLength="50.45" lengthAdjust="spacingAndGlyphs">VVGGLVALR</text>
<text x="230.68" y="674.88" font-size="6.5" font-weight="bold" fill="#35a74b" textLength="8.19" lengthAdjust="spacingAndGlyphs">354</text>
<circle cx="224.88" cy="674.88" r="5.10" fill="#f2f4b4" stroke="#d4d66a" stroke-width="1"/>
<text x="221.88" y="678.48" font-size="11" font-weight="bold" fill="#35a74b" textLength="6.00" lengthAdjust="spacingAndGlyphs">N</text>
<path d="M217.30,671.08 V679.48" stroke="#35a74b" stroke-width="0.9"/>
<path d="M215.70,676.48 L217.30,679.98 L218.90,676.48" fill="none" stroke="#35a74b" stroke-width="0.9" stroke-linejoin="miter"/>
<text x="203.59" y="678.48" font-size="11" font-weight="bold" fill="#35a74b" textLength="11.53" lengthAdjust="spacingAndGlyphs">[R]</text>
<line x1="304" y1="689.50" x2="512.5" y2="689.50" stroke="#d2d2d2" stroke-width="1"/>
<rect x="512.5" y="687.42" width="7.2" height="3.8" fill="#111"/>
<text x="289.31" y="687.12" font-size="6.5" textLength="8.19" lengthAdjust="spacingAndGlyphs">558</text>
<text x="172.71" y="690.72" font-size="11" textLength="116.61" lengthAdjust="spacingAndGlyphs" stroke="#1a1a1a" stroke-width="0.1">ACQGDSGGPLVCEDQAAERR</text>
<text x="164.52" y="687.12" font-size="6.5" textLength="8.19" lengthAdjust="spacingAndGlyphs">539</text>
<circle cx="158.72" cy="687.12" r="5.10" fill="#f2f4b4" stroke="#d4d66a" stroke-width="1"/>
<text x="155.72" y="690.72" font-size="11" textLength="6.00" lengthAdjust="spacingAndGlyphs" stroke="#1a1a1a" stroke-width="0.1">N</text>
<path d="M151.14,683.32 V691.72" stroke="#1a1a1a" stroke-width="0.8"/>
<path d="M149.54,688.72 L151.14,692.22 L152.74,688.72" fill="none" stroke="#1a1a1a" stroke-width="0.8" stroke-linejoin="miter"/>
<text x="138.35" y="690.72" font-size="11" textLength="10.61" lengthAdjust="spacingAndGlyphs" stroke="#1a1a1a" stroke-width="0.1">[D]</text>
<line x1="304" y1="701.50" x2="521.6" y2="701.50" stroke="#d2d2d2" stroke-width="1"/>
<rect x="521.6" y="699.66" width="3.8" height="3.8" fill="#111"/>
<text x="289.31" y="699.36" font-size="6.5" textLength="8.19" lengthAdjust="spacingAndGlyphs">574</text>
<text x="221.95" y="702.96" font-size="11" textLength="67.36" lengthAdjust="spacingAndGlyphs" stroke="#1a1a1a" stroke-width="0.1">GIISWGSGCGDR</text>
<text x="213.76" y="699.36" font-size="6.5" textLength="8.19" lengthAdjust="spacingAndGlyphs">563</text>
<circle cx="207.96" cy="699.36" r="5.10" fill="#f2f4b4" stroke="#d4d66a" stroke-width="1"/>
<text x="204.96" y="702.96" font-size="11" textLength="6.00" lengthAdjust="spacingAndGlyphs" stroke="#1a1a1a" stroke-width="0.1">N</text>
<path d="M200.38,695.56 V703.96" stroke="#1a1a1a" stroke-width="0.8"/>
<path d="M198.78,700.96 L200.38,704.46 L201.98,700.96" fill="none" stroke="#1a1a1a" stroke-width="0.8" stroke-linejoin="miter"/>
<text x="187.13" y="702.96" font-size="11" textLength="11.07" lengthAdjust="spacingAndGlyphs" stroke="#1a1a1a" stroke-width="0.1">[Q]</text>
<line x1="304" y1="713.50" x2="523.5" y2="713.50" stroke="#d2d2d2" stroke-width="1"/>
<rect x="523.5" y="711.90" width="8.7" height="3.8" fill="#111"/>
<text x="289.31" y="711.60" font-size="6.5" textLength="8.19" lengthAdjust="spacingAndGlyphs">591</text>
<text x="160.25" y="715.20" font-size="11" textLength="129.06" lengthAdjust="spacingAndGlyphs" stroke="#1a1a1a" stroke-width="0.1">SGCGDRNKPGVYTDVAYYLAWIR</text>
<text x="152.06" y="711.60" font-size="6.5" textLength="8.19" lengthAdjust="spacingAndGlyphs">569</text>
<circle cx="146.26" cy="711.60" r="5.10" fill="#f2f4b4" stroke="#d4d66a" stroke-width="1"/>
<text x="143.26" y="715.20" font-size="11" textLength="6.00" lengthAdjust="spacingAndGlyphs" stroke="#1a1a1a" stroke-width="0.1">N</text>
<path d="M138.69,707.80 V716.20" stroke="#1a1a1a" stroke-width="0.8"/>
<path d="M137.09,713.20 L138.69,716.70 L140.29,713.20" fill="none" stroke="#1a1a1a" stroke-width="0.8" stroke-linejoin="miter"/>
<text x="125.44" y="715.20" font-size="11" textLength="11.07" lengthAdjust="spacingAndGlyphs" stroke="#1a1a1a" stroke-width="0.1">[G]</text>
<line x1="304" y1="726.50" x2="529.5" y2="726.50" stroke="#d2d2d2" stroke-width="1"/>
<rect x="529.5" y="724.14" width="3.8" height="3.8" fill="#111"/>
<text x="289.31" y="723.84" font-size="6.5" textLength="8.19" lengthAdjust="spacingAndGlyphs">596</text>
<text x="224.55" y="727.44" font-size="11" textLength="64.76" lengthAdjust="spacingAndGlyphs" stroke="#1a1a1a" stroke-width="0.1">YYLAWIREHTVS</text>
<text x="216.36" y="723.84" font-size="6.5" textLength="8.19" lengthAdjust="spacingAndGlyphs">585</text>
<circle cx="210.56" cy="723.84" r="5.10" fill="#f2f4b4" stroke="#d4d66a" stroke-width="1"/>
<text x="207.56" y="727.44" font-size="11" textLength="6.00" lengthAdjust="spacingAndGlyphs" stroke="#1a1a1a" stroke-width="0.1">N</text>
<path d="M202.98,720.04 V728.44" stroke="#1a1a1a" stroke-width="0.8"/>
<path d="M201.38,725.44 L202.98,728.94 L204.58,725.44" fill="none" stroke="#1a1a1a" stroke-width="0.8" stroke-linejoin="miter"/>
<text x="190.65" y="727.44" font-size="11" textLength="10.15" lengthAdjust="spacingAndGlyphs" stroke="#1a1a1a" stroke-width="0.1">[A]</text>
<line x1="304" y1="738.50" x2="530.3" y2="738.50" stroke="#d2d2d2" stroke-width="1"/>
<rect x="530.3" y="736.38" width="3.4" height="3.8" fill="#111"/>
<text x="289.31" y="736.08" font-size="6.5" textLength="8.19" lengthAdjust="spacingAndGlyphs">596</text>
<text x="240.25" y="739.68" font-size="11" textLength="49.07" lengthAdjust="spacingAndGlyphs" stroke="#1a1a1a" stroke-width="0.1">AWIREHTVS</text>
<text x="232.06" y="736.08" font-size="6.5" textLength="8.19" lengthAdjust="spacingAndGlyphs">588</text>
<circle cx="226.26" cy="736.08" r="5.10" fill="#f2f4b4" stroke="#d4d66a" stroke-width="1"/>
<text x="223.26" y="739.68" font-size="11" textLength="6.00" lengthAdjust="spacingAndGlyphs" stroke="#1a1a1a" stroke-width="0.1">N</text>
<path d="M218.68,732.28 V740.68" stroke="#1a1a1a" stroke-width="0.8"/>
<path d="M217.08,737.68 L218.68,741.18 L220.28,737.68" fill="none" stroke="#1a1a1a" stroke-width="0.8" stroke-linejoin="miter"/>
<text x="207.27" y="739.68" font-size="11" textLength="9.23" lengthAdjust="spacingAndGlyphs" stroke="#1a1a1a" stroke-width="0.1">[L]</text>
<line x1="304" y1="750.50" x2="530.7" y2="750.50" stroke="#d2d2d2" stroke-width="1"/>
<rect x="530.7" y="748.62" width="3.0" height="3.8" fill="#111"/>
<text x="289.31" y="748.32" font-size="6.5" textLength="8.19" lengthAdjust="spacingAndGlyphs">596</text>
<text x="245.48" y="751.92" font-size="11" textLength="43.83" lengthAdjust="spacingAndGlyphs" stroke="#1a1a1a" stroke-width="0.1">WIREHTVS</text>
<text x="237.29" y="748.32" font-size="6.5" textLength="8.19" lengthAdjust="spacingAndGlyphs">589</text>
<circle cx="231.49" cy="748.32" r="5.10" fill="#f2f4b4" stroke="#d4d66a" stroke-width="1"/>
<text x="228.49" y="751.92" font-size="11" textLength="6.00" lengthAdjust="spacingAndGlyphs" stroke="#1a1a1a" stroke-width="0.1">N</text>
<path d="M223.91,744.52 V752.92" stroke="#1a1a1a" stroke-width="0.8"/>
<path d="M222.31,749.92 L223.91,753.42 L225.51,749.92" fill="none" stroke="#1a1a1a" stroke-width="0.8" stroke-linejoin="miter"/>
<text x="211.58" y="751.92" font-size="11" textLength="10.15" lengthAdjust="spacingAndGlyphs" stroke="#1a1a1a" stroke-width="0.1">[A]</text>
<line x1="316.3" y1="757.2" x2="316.3" y2="754.5" stroke="#999" stroke-width="0.8"/>
<line x1="389.7" y1="757.2" x2="389.7" y2="754.5" stroke="#999" stroke-width="0.8"/>
<line x1="463.1" y1="757.2" x2="463.1" y2="754.5" stroke="#999" stroke-width="0.8"/>
<line x1="535" y1="757.2" x2="535" y2="754.5" stroke="#999" stroke-width="0.8"/>
<text x="312.60" y="773.90" font-size="14.5" textLength="6.30" lengthAdjust="spacingAndGlyphs" stroke="#1a1a1a" stroke-width="0.3">0</text>
<text x="381.50" y="773.90" font-size="14.5" textLength="20.10" lengthAdjust="spacingAndGlyphs" stroke="#1a1a1a" stroke-width="0.3">200</text>
<text x="452.50" y="773.90" font-size="14.5" textLength="20.10" lengthAdjust="spacingAndGlyphs" stroke="#1a1a1a" stroke-width="0.3">400</text>
<text x="527.30" y="773.90" font-size="14.5" textLength="20.10" lengthAdjust="spacingAndGlyphs" stroke="#1a1a1a" stroke-width="0.3">596</text>
<text x="393.20" y="791.20" font-size="16.5" font-weight="bold" textLength="61.00" lengthAdjust="spacingAndGlyphs" stroke="#1a1a1a" stroke-width="0.1">Position</text>
<text transform="translate(59.6,700.9) rotate(-90)" font-size="15" font-weight="bold" textLength="133" lengthAdjust="spacingAndGlyphs" fill="#1a1a1a">Identified peptides</text>
</svg></body></html>
